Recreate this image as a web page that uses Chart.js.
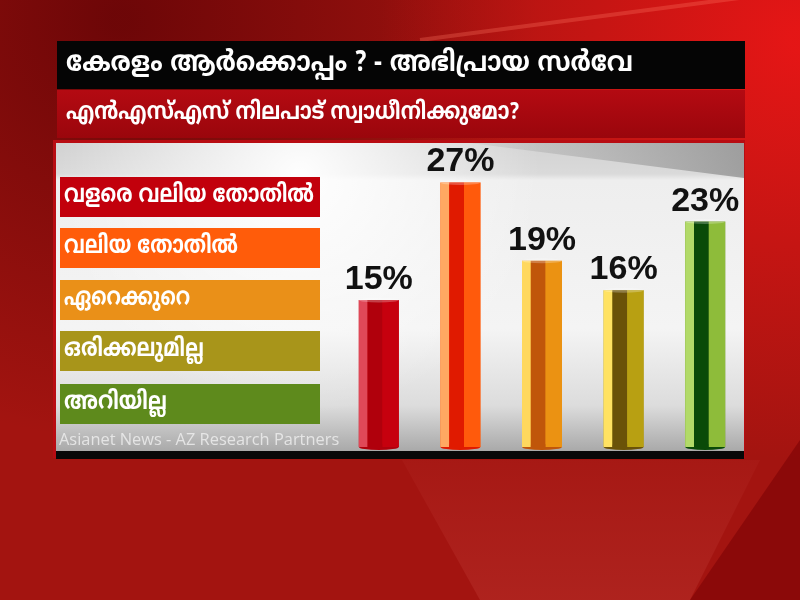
<!DOCTYPE html>
<html>
<head>
<meta charset="utf-8">
<script src="https://cdn.jsdelivr.net/npm/chart.js@4.4.1/dist/chart.umd.min.js"></script>
<style>
html,body{margin:0;padding:0;background:#a01010;}
#wrap{width:800px;height:600px;position:relative;}
</style>
</head>
<body>
<div id="wrap"><canvas id="c" width="800" height="600"></canvas></div>
<script>
const titleText = "കേരളം ആർക്കൊപ്പം ? - അഭിപ്രായ സർവേ";
const subtitleText = "എൻഎസ്എസ് നിലപാട് സ്വാധീനിക്കുമോ?";
const categories = ["വളരെ വലിയ തോതിൽ", "വലിയ തോതിൽ", "ഏറെക്കുറെ", "ഒരിക്കലുമില്ല", "അറിയില്ല"];
const values = [15, 27, 19, 16, 23];
const legendColors = ["#c2000c", "#ff5c0a", "#ea9018", "#a8951a", "#5e8a1c"];
// bar stripe colours: [left highlight, middle shade, right face]
const barLeft = ["#e04858", "#ffa862", "#ffd85e", "#ffe262", "#b2da68"];
const barMid = ["#b0000c", "#e01a00", "#c0560a", "#6a5208", "#0a4a08"];
const barRight = ["#c6000e", "#ff5a0c", "#eb9212", "#b8a012", "#8ebc3a"];
const sourceText = "Asianet News - AZ Research Partners";

const MAL = "'Noto Sans Malayalam','Noto Sans','DejaVu Sans',sans-serif";
const legendTextWidths = [250, 174, 126, 140, 103];

const bgPlugin = {
  id: 'bg',
  beforeDraw(chart) {
    const ctx = chart.ctx;
    ctx.save();
    ctx.fillStyle = '#a31410';
    ctx.fillRect(0, 0, 800, 600);
    let r1 = ctx.createRadialGradient(120, 20, 10, 120, 20, 420);
    r1.addColorStop(0, 'rgba(100,4,6,0.85)');
    r1.addColorStop(1, 'rgba(100,4,6,0)');
    ctx.fillStyle = r1;
    ctx.fillRect(0, 0, 800, 600);
    let r2 = ctx.createRadialGradient(800, 40, 10, 800, 40, 420);
    r2.addColorStop(0, 'rgba(232,22,22,0.95)');
    r2.addColorStop(1, 'rgba(232,22,22,0)');
    ctx.fillStyle = r2;
    ctx.fillRect(0, 0, 800, 600);
    // dark corner bottom right
    ctx.fillStyle = 'rgba(120,0,4,0.55)';
    ctx.beginPath();
    ctx.moveTo(800, 440); ctx.lineTo(800, 600); ctx.lineTo(690, 600); ctx.closePath();
    ctx.fill();
    // light wedge at bottom
    let wg = ctx.createLinearGradient(0, 460, 0, 600);
    wg.addColorStop(0, 'rgba(255,140,130,0.04)');
    wg.addColorStop(1, 'rgba(255,140,130,0.12)');
    ctx.fillStyle = wg;
    ctx.beginPath();
    ctx.moveTo(402, 460); ctx.lineTo(760, 460); ctx.lineTo(690, 600); ctx.lineTo(480, 600); ctx.closePath();
    ctx.fill();
    // light streak top right
    ctx.strokeStyle = 'rgba(255,120,100,0.3)';
    ctx.lineWidth = 4;
    ctx.beginPath(); ctx.moveTo(420, 40); ctx.lineTo(800, -10); ctx.stroke();

    // title bar
    ctx.fillStyle = '#050505';
    ctx.fillRect(57, 41, 688, 48);
    // subtitle bar
    let g3 = ctx.createLinearGradient(0, 90, 0, 138);
    g3.addColorStop(0, '#b40a12');
    g3.addColorStop(1, '#9a060c');
    ctx.fillStyle = g3;
    ctx.fillRect(57, 90, 688, 48);

    // panel
    ctx.fillStyle = '#b80c12';
    ctx.fillRect(53, 140, 692, 318);
    let pg = ctx.createLinearGradient(0, 143, 0, 452);
    pg.addColorStop(0, '#d2d2d2');
    pg.addColorStop(0.1, '#dadada');
    pg.addColorStop(0.12, '#eeeeee');
    pg.addColorStop(0.6, '#f4f4f4');
    pg.addColorStop(0.85, '#dcdcdc');
    pg.addColorStop(1, '#a8a8a8');
    ctx.fillStyle = pg;
    ctx.fillRect(56, 143, 688, 309);
    // white glow
    let rg = ctx.createRadialGradient(300, 175, 5, 300, 175, 240);
    rg.addColorStop(0, 'rgba(255,255,255,0.95)');
    rg.addColorStop(1, 'rgba(255,255,255,0)');
    ctx.fillStyle = rg;
    ctx.fillRect(56, 143, 688, 309);
    // grey top right shading
    let gg = ctx.createLinearGradient(480, 0, 744, 0);
    gg.addColorStop(0, 'rgba(150,150,150,0.15)');
    gg.addColorStop(1, 'rgba(140,140,140,0.75)');
    ctx.fillStyle = gg;
    ctx.beginPath();
    ctx.moveTo(470, 143); ctx.lineTo(744, 143); ctx.lineTo(744, 178); ctx.closePath();
    ctx.fill();
    // bottom black strip
    ctx.fillStyle = '#080808';
    ctx.fillRect(56, 451, 688, 8);

    // texts
    ctx.fillStyle = '#ffffff';
    ctx.textBaseline = 'middle';
    ctx.textAlign = 'left';
    ctx.font = 'bold 28px ' + MAL;
    ctx.fillText(titleText, 66, 66, 567);
    ctx.font = 'bold 24px ' + MAL;
    ctx.fillText(subtitleText, 66, 114, 453);

    // legend boxes
    const tops = [177, 228, 280, 331, 384];
    categories.forEach((c, i) => {
      ctx.fillStyle = legendColors[i];
      ctx.fillRect(60, tops[i], 260, 40);
      ctx.fillStyle = '#ffffff';
      ctx.font = 'bold 25px ' + MAL;
      ctx.fillText(c, 64, tops[i] + 20, legendTextWidths[i]);
    });

    // source
    ctx.font = '16.4px "Open Sans", sans-serif';
    ctx.fillStyle = 'rgba(240,240,240,0.8)';
    ctx.fillText(sourceText, 59, 440);
    ctx.restore();
  }
};

const labelPlugin = {
  id: 'labels',
  afterDatasetsDraw(chart) {
    const ctx = chart.ctx;
    const meta = chart.getDatasetMeta(0);
    ctx.save();
    meta.data.forEach((el, i) => {
      const p = el.getProps(['x', 'y', 'base', 'width'], true);
      const x0 = p.x - p.width / 2, w = p.width;
      const top = p.y, bot = p.base;
      // bottom rounded cap
      ctx.fillStyle = barMid[i];
      ctx.beginPath();
      ctx.ellipse(p.x, bot, w / 2, 3, 0, 0, Math.PI * 2);
      ctx.fill();
      // stripes
      ctx.fillStyle = barLeft[i];
      ctx.fillRect(x0, top, w * 0.22, bot - top);
      ctx.fillStyle = barMid[i];
      ctx.fillRect(x0 + w * 0.22, top, w * 0.37, bot - top);
      ctx.fillStyle = barRight[i];
      ctx.fillRect(x0 + w * 0.59, top, w * 0.41, bot - top);
      // top cap
      ctx.fillStyle = 'rgba(255,255,255,0.25)';
      ctx.beginPath();
      ctx.ellipse(p.x, top, w / 2, 2.5, 0, 0, Math.PI * 2);
      ctx.fill();
      // value label
      ctx.fillStyle = '#111111';
      ctx.font = 'bold 34px "Liberation Sans", Arial, sans-serif';
      ctx.textAlign = 'center';
      ctx.textBaseline = 'alphabetic';
      ctx.fillText(values[i] + '%', p.x, top - 11);
    });
    ctx.restore();
  }
};

new Chart(document.getElementById('c'), {
  type: 'bar',
  data: {
    labels: categories,
    datasets: [{
      data: values,
      backgroundColor: legendColors,
      borderWidth: 0,
      barPercentage: 0.49,
      categoryPercentage: 1
    }]
  },
  options: {
    responsive: false,
    animation: false,
    layout: { padding: { left: 338, right: 54, top: 153, bottom: 153 } },
    scales: {
      x: { display: false },
      y: { display: false, min: 0, max: 30 }
    },
    plugins: { legend: { display: false }, tooltip: { enabled: false }, title: { display: false } }
  },
  plugins: [bgPlugin, labelPlugin]
});
</script>
</body>
</html>
